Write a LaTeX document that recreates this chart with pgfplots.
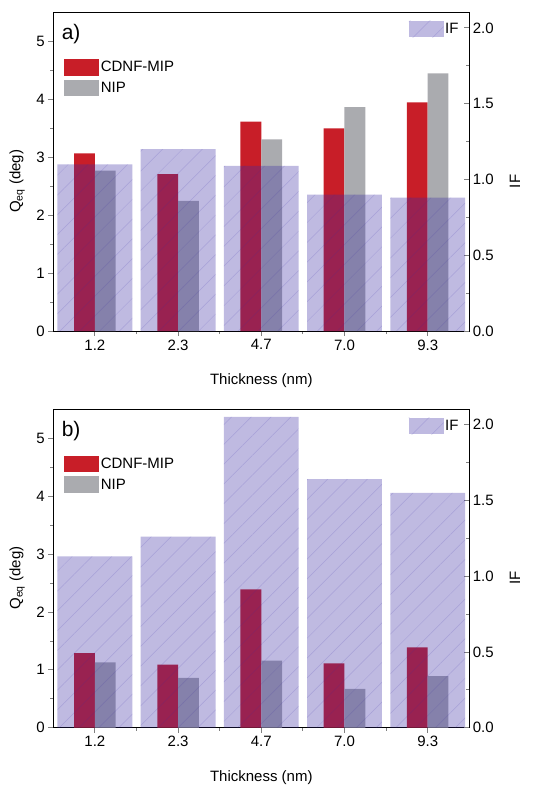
\documentclass[border=0pt]{standalone}
\usepackage{fontspec}
\setmainfont{Liberation Sans}
\usepackage{pgfplots}
\pgfplotsset{compat=1.18}
\usetikzlibrary{patterns.meta}

\definecolor{cdnf}{RGB}{200,30,40}
\definecolor{nip}{RGB}{170,171,175}
\definecolor{ifc}{RGB}{60,45,165}
\newcommand\fs{\fontsize{15}{18}\selectfont}

\pgfplotsset{
  panel/.style={
    scale only axis, width=416pt, height=318.3pt,
    xmin=0.5, xmax=5.5, anchor=south west,
    /pgf/number format/assume math mode=true,
    tick label style={font=\fs}, label style={font=\fs},
    axis line style={line width=0.8pt}, major tick style={line width=0.8pt},
    minor tick style={line width=0.8pt},
    major tick length=5pt, minor tick length=3pt,
    legend style={draw=none, fill=none, inner sep=0pt, font=\fs,
      nodes={inner sep=1.5pt}, row sep=4pt,
      /tikz/every even column/.append style={column sep=4pt}},
    legend cell align=left,
    legend image code/.code={\path[##1, draw=none] (0pt,-8.3pt) rectangle (35pt,8.3pt);},
  },
  qaxis/.style={panel,
    ymin=0, ymax=5.5, ytick={0,1,2,3,4,5}, minor ytick={0.5,1.5,2.5,3.5,4.5},
    xtick={1,2,3,4,5}, xticklabels={1.2,2.3,4.7,7.0,9.3},
    minor xtick={1.5,2.5,3.5,4.5},
    xtick pos=bottom, ytick pos=left, tick align=outside,
    xlabel={Thickness (nm)}, ylabel={Q\textsubscript{eq} (deg)},
    xlabel style={at={(axis description cs:0.5,-0.157)}, anchor=center},
    ylabel style={at={(axis description cs:-0.087,0.47)}, anchor=center, rotate=0},
    legend style={at={(axis description cs:0.026,0.855)}, anchor=north west},
  },
  ifaxis/.style={panel,
    axis y line*=right, axis x line=none,
    ymin=0, ymax=2.1, ytick={0,0.5,1,1.5,2}, minor ytick={0.25,0.75,1.25,1.75},
    tick align=inside,
    yticklabel style={/pgf/number format/.cd, fixed, fixed zerofill, precision=1},
    ylabel={IF},
    ylabel style={at={(axis description cs:1.11,0.47)}, anchor=center, rotate=0},
    legend style={at={(axis description cs:0.978,0.975)}, anchor=north east},
  },
  redbar/.style={ybar, bar width=0.25, bar shift=-0.125, fill=cdnf, draw=none},
  graybar/.style={ybar, bar width=0.25, bar shift=0.125, fill=nip, draw=none},
  ifbar/.style={ybar, bar width=0.9, bar shift=0, draw=none, fill=ifc, fill opacity=0.33,
    postaction={opacity=0.18, pattern={Lines[angle=45,distance=14pt,line width=0.5pt]},
      pattern color=ifc}},
}

\begin{document}
\begin{tikzpicture}
\useasboundingbox (0pt,0pt) rectangle (545pt,-787pt);

% panel a
\begin{axis}[qaxis, at={(53.3pt,-331pt)}]
\addplot[redbar] coordinates {(1,3.07) (2,2.71) (3,3.62) (4,3.50) (5,3.95)};
\addlegendentry{CDNF-MIP}
\addplot[graybar] coordinates {(1,2.77) (2,2.25) (3,3.31) (4,3.87) (5,4.45)};
\addlegendentry{NIP}
\node[anchor=west, font=\fontsize{21}{24}\selectfont] at (rel axis cs:0.012,0.933) {a)};
\end{axis}
\begin{axis}[ifaxis, at={(53.3pt,-331pt)}]
\addplot[ifbar] coordinates {(1,1.10) (2,1.20) (3,1.09) (4,0.90) (5,0.88)};
\addlegendentry{IF}
\end{axis}

% panel b
\begin{axis}[qaxis, at={(53.3pt,-727.7pt)}]
\addplot[redbar] coordinates {(1,1.29) (2,1.09) (3,2.39) (4,1.11) (5,1.39)};
\addlegendentry{CDNF-MIP}
\addplot[graybar] coordinates {(1,1.13) (2,0.86) (3,1.16) (4,0.67) (5,0.89)};
\addlegendentry{NIP}
\node[anchor=west, font=\fontsize{21}{24}\selectfont] at (rel axis cs:0.012,0.933) {b)};
\end{axis}
\begin{axis}[ifaxis, at={(53.3pt,-727.7pt)}]
\addplot[ifbar] coordinates {(1,1.13) (2,1.26) (3,2.05) (4,1.64) (5,1.55)};
\addlegendentry{IF}
\end{axis}
\end{tikzpicture}
\end{document}
